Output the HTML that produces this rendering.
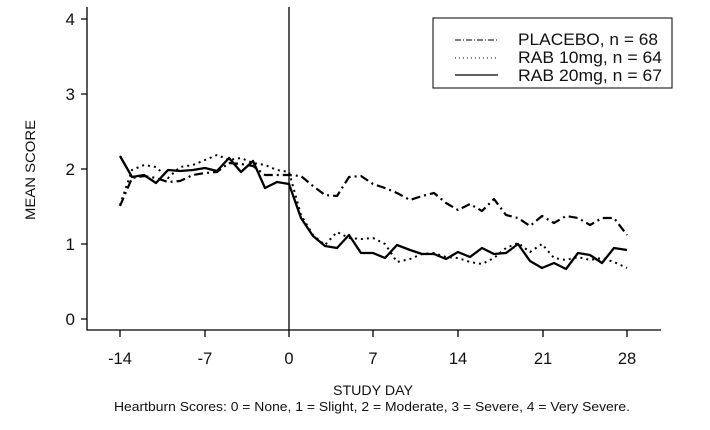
<!DOCTYPE html>
<html><head><style>body{margin:0;background:#fff}svg{display:block}text{font-family:"Liberation Sans",Arial,sans-serif;fill:#111}</style></head>
<body>
<svg width="710" height="430" viewBox="0 0 710 430">
<g stroke="#000" stroke-width="1.3" fill="none">
<path d="M87,7V330H661"/>
<path d="M289,7V330"/>
<path d="M81,19H87M81,94H87M81,169H87M81,244H87M81,319H87"/>
<path d="M120,330v7M205,330v7M289,330v7M373,330v7M458,330v7M543,330v7M627,330v7"/>
<rect x="433" y="18" width="239" height="70" stroke-width="1"/>
</g>
<g font-size="17" text-anchor="end">
<text x="75" y="25">4</text><text x="75" y="100">3</text><text x="75" y="175">2</text><text x="75" y="250">1</text><text x="75" y="325">0</text>
</g>
<g font-size="16.5" text-anchor="middle">
<text x="120" y="364">-14</text><text x="205" y="364">-7</text><text x="289" y="364">0</text><text x="373" y="364">7</text><text x="458" y="364">14</text><text x="543" y="364">21</text><text x="627" y="364">28</text>
</g>
<text x="35" y="170" font-size="14" text-anchor="middle" textLength="100" lengthAdjust="spacingAndGlyphs" transform="rotate(-90 35 170)">MEAN SCORE</text>
<text x="333" y="395" font-size="13.5" textLength="80" lengthAdjust="spacingAndGlyphs">STUDY DAY</text>
<text x="114" y="411" font-size="13" textLength="516" lengthAdjust="spacingAndGlyphs">Heartburn Scores: 0 = None, 1 = Slight, 2 = Moderate, 3 = Severe, 4 = Very Severe.</text>
<g font-size="17"><text x="518" y="45" textLength="140" lengthAdjust="spacingAndGlyphs">PLACEBO, n = 68</text><text x="518" y="63" textLength="144" lengthAdjust="spacingAndGlyphs">RAB 10mg, n = 64</text><text x="518" y="81" textLength="144" lengthAdjust="spacingAndGlyphs">RAB 20mg, n = 67</text></g>
<g stroke="#000" fill="none">
<path d="M455,40H498" stroke-width="1" stroke-dasharray="6,2,1,2"/>
<path d="M455,58H498" stroke-width="1" stroke-dasharray="1,3"/>
<path d="M455,75H498" stroke-width="1.2"/>
</g>
<g stroke="#000" fill="none" stroke-linejoin="round">
<polyline stroke-width="2.2" stroke-dasharray="9,4,2,4" points="120,206 132,178 144,176 156,178 168,182 180,181 193,175 205,173 217,172 229,163 241,164 253,166 265,175 277,175 289,175 301,176 313,186 325,195 337,196 349,177 361,176 373,184 385,188 397,193 410,200 422,196 434,193 446,203 458,210 470,204 482,211 494,199 506,215 518,218 530,226 542,216 554,223 566,216 578,218 590,225 602,218 614,218 627,235"/>
<polyline stroke-width="2" stroke-dasharray="2,4" points="120,205 132,170 144,165 156,167 168,178 180,167 193,165 205,160 217,155 229,160 241,158 253,163 265,165 277,170 289,172 301,215 313,235 325,245 337,232 349,238 361,239 373,238 385,244 397,262 410,259 422,254 434,253 446,257 458,258 470,262 482,264 494,258 506,248 518,243 530,252 542,244 554,258 566,260 578,257 590,260 602,258 614,262 627,268"/>
<polyline stroke-width="2.3" points="120,156 132,177 144,175 156,183 168,170 180,171 193,170 205,168 217,171 229,158 241,172 253,161 265,188 277,182 289,184 301,218 313,236 325,246 337,248 349,235 361,253 373,253 385,258 397,245 410,250 422,254 434,254 446,259 458,252 470,257 482,248 494,254 506,253 518,244 530,261 542,268 554,263 566,269 578,253 590,255 602,263 614,248 627,250"/>
</g>
</svg>
</body></html>
